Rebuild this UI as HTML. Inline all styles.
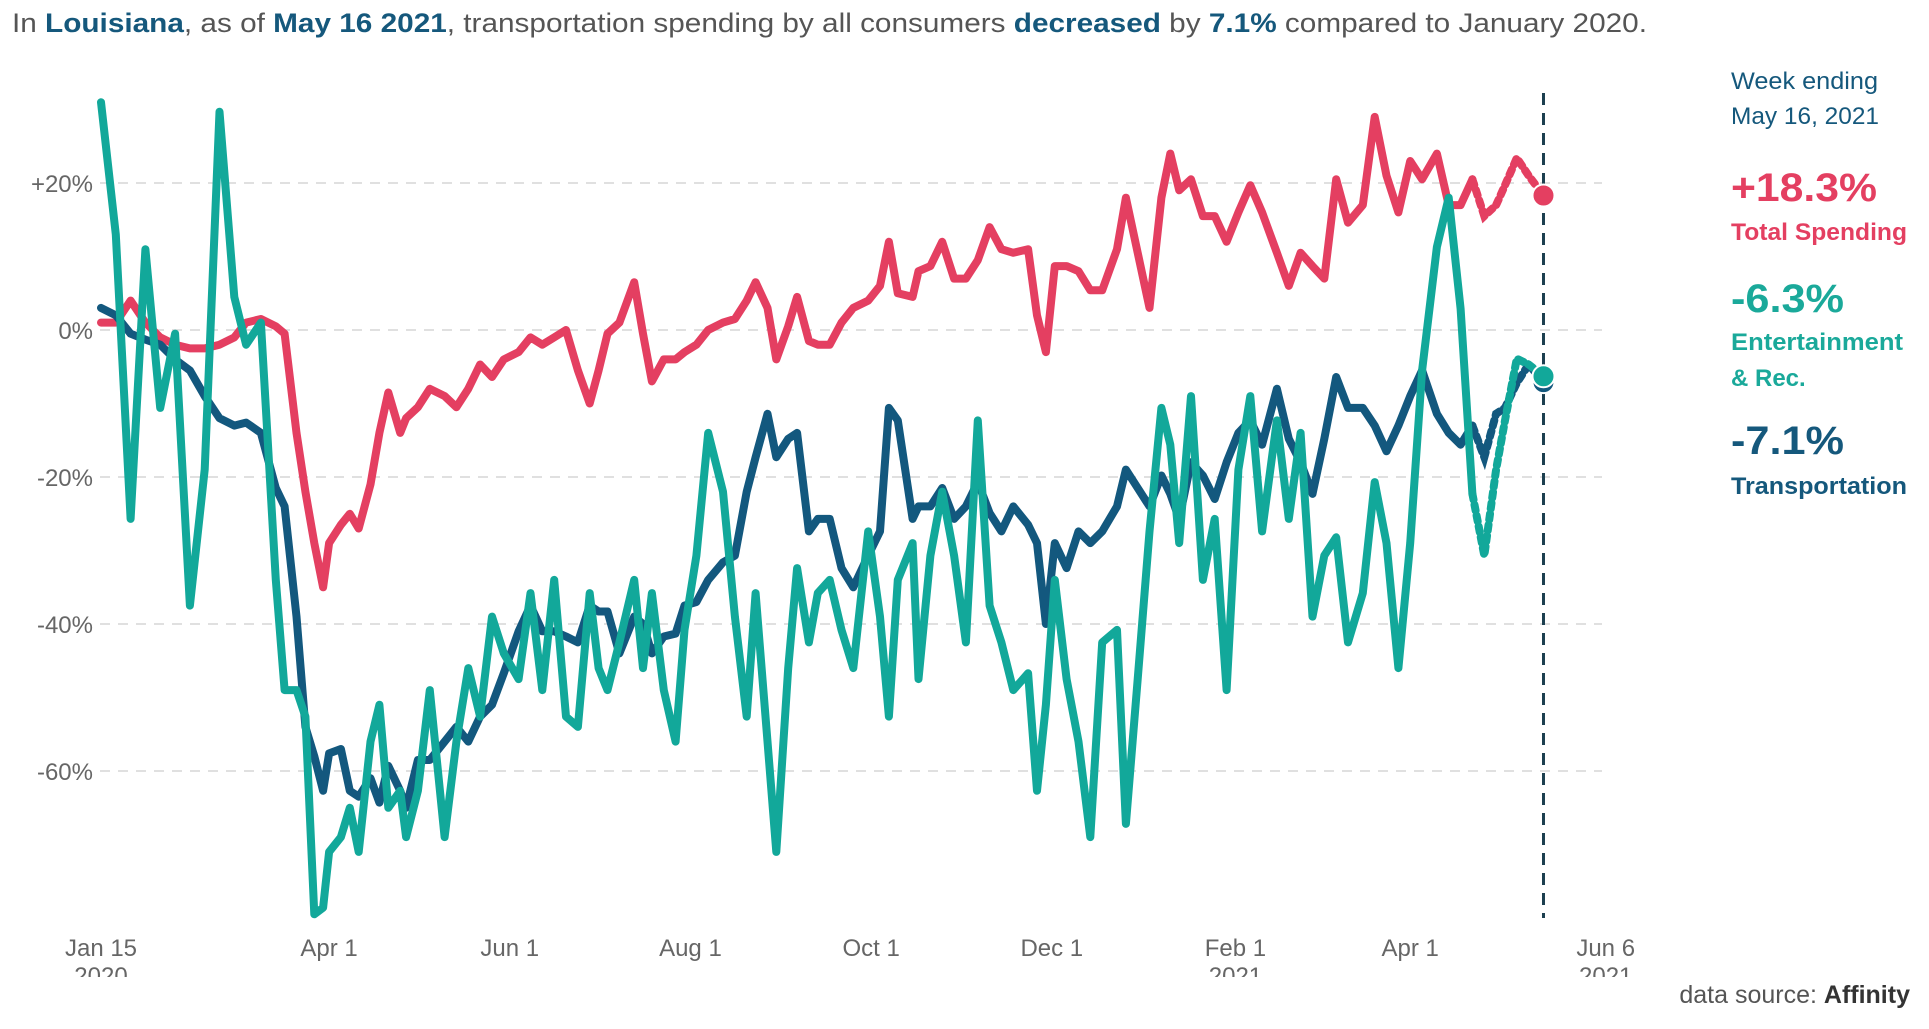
<!DOCTYPE html>
<html><head><meta charset="utf-8"><style>
html,body{margin:0;padding:0;background:#fff;width:1929px;height:1029px;overflow:hidden}
svg{display:block}
text{font-family:"Liberation Sans",sans-serif}
</style></head><body>
<svg id="chart" width="1929" height="1029" viewBox="0 0 1929 1029" xmlns="http://www.w3.org/2000/svg">
<defs><clipPath id="clipb"><rect x="0" y="0" width="1929" height="977"/></clipPath></defs>
<text x="12" y="32" font-size="27" fill="#555" textLength="1635" lengthAdjust="spacingAndGlyphs">In <tspan font-weight="bold" fill="#15587c">Louisiana</tspan>, as of <tspan font-weight="bold" fill="#15587c">May 16 2021</tspan>, transportation spending by all consumers <tspan font-weight="bold" fill="#15587c">decreased</tspan> by <tspan font-weight="bold" fill="#15587c">7.1%</tspan> compared to January 2020.</text>
<g id="grid"></g>
<g id="yaxis"></g>
<g id="xaxis" clip-path="url(#clipb)"></g>
<g id="series"></g>
<g font-weight="normal">
<text x="1731" y="89" font-size="24" fill="#15587c" textLength="147" lengthAdjust="spacingAndGlyphs">Week ending</text>
<text x="1731" y="124" font-size="24" fill="#15587c" textLength="148" lengthAdjust="spacingAndGlyphs">May 16, 2021</text>
<text x="1731" y="201" font-size="40" font-weight="bold" fill="#e43f61" textLength="146" lengthAdjust="spacingAndGlyphs">+18.3%</text>
<text x="1731" y="240" font-size="24" font-weight="bold" fill="#e43f61" textLength="176" lengthAdjust="spacingAndGlyphs">Total Spending</text>
<text x="1731" y="312" font-size="40" font-weight="bold" fill="#1aa99a" textLength="113" lengthAdjust="spacingAndGlyphs">-6.3%</text>
<text x="1731" y="350" font-size="24" font-weight="bold" fill="#1aa99a" textLength="172" lengthAdjust="spacingAndGlyphs">Entertainment</text>
<text x="1731" y="386" font-size="24" font-weight="bold" fill="#1aa99a">&amp; Rec.</text>
<text x="1731" y="454" font-size="40" font-weight="bold" fill="#15587c" textLength="113" lengthAdjust="spacingAndGlyphs">-7.1%</text>
<text x="1731" y="494" font-size="24" font-weight="bold" fill="#15587c" textLength="176" lengthAdjust="spacingAndGlyphs">Transportation</text>
</g>
<text x="1910" y="1003" font-size="25" fill="#555" text-anchor="end">data source: <tspan font-weight="bold" fill="#333">Affinity</tspan></text>
</svg>
<script>
const days=[0,5,10,15,20,25,30,35,40,45,49,54,59,62,66,69,72,75,77,81,84,87,91,94,97,101,103,107,111,116,120,124,128,132,136,141,145,149,153,157,161,165,168,171,175,180,183,186,190,194,197,201,205,210,214,218,221,225,228,232,235,239,242,246,250,254,259,263,266,269,274,276,280,284,288,292,296,300,304,308,313,316,319,322,326,330,334,338,343,346,350,354,358,361,364,368,372,376,380,384,388,392,397,401,405,409,413,417,421,426,430,434,438,442,446,451,455,459,463,467,471,474,478,482,487];
const totalSpending=[1,1,4,1,-1,-2,-2.5,-2.5,-2,-1,1,1.5,0.5,-0.5,-14,-22,-29,-35,-29,-26.5,-25,-27,-21,-14,-8.5,-14,-12,-10.5,-8,-9,-10.5,-8,-4.7,-6.4,-4,-3,-1,-2,-1,0,-5.5,-10,-5.5,-0.5,1,6.5,-0.5,-7,-4,-4,-3,-2,0,1,1.5,4,6.5,3,-4,0.5,4.5,-1.5,-2,-2,1,3,4,6,12,5,4.5,8,8.7,12,7,7,9.5,14,11,10.5,11,2,-3,8.7,8.7,8,5.4,5.4,11,18,10.5,3,18,24,19,20.5,15.5,15.5,12,16,19.7,16,10.5,6,10.5,8.7,7,20.5,14.6,17,29,21,16,23,20.5,24,17,17,20.5,15.5,17,19.7,23.4,21,18.3];
const transportation=[3,2,-0.5,-1.3,-2,-4,-5.5,-9,-12,-13,-12.6,-14,-21.5,-24,-39,-54,-58,-62.7,-57.6,-57,-62.7,-63.5,-61,-64.3,-59.3,-62.7,-65,-58.5,-58.5,-56,-54,-56,-52.6,-51,-46.7,-41,-37.5,-41,-41,-41.7,-42.5,-37.5,-38.3,-38.3,-44,-39,-40,-44,-41.7,-41.3,-37.5,-37,-34,-31.6,-30.7,-22,-17.3,-11.4,-17.3,-14.8,-14,-27.4,-25.7,-25.7,-32.4,-35,-30.7,-27.4,-10.6,-12.3,-25.7,-24,-24,-21.5,-25.7,-24,-20.7,-24.9,-27.4,-24,-26.5,-29,-40,-29,-32.4,-27.4,-29,-27.4,-24,-19,-21.5,-24,-19.8,-22.3,-25.7,-18,-19.8,-23,-18,-14,-12.3,-15.6,-8,-14.8,-18,-22.3,-14.8,-6.4,-10.6,-10.6,-13,-16.5,-13,-9,-5.5,-11.4,-14,-15.6,-13,-17.3,-11.4,-10.6,-7.2,-4.7,-7.1];
const entertainment=[31,13,-25.7,11,-10.6,-0.5,-37.5,-19,29.7,4.5,-2,1,-34,-49,-49,-52.6,-79.5,-78.6,-71,-69,-65,-71,-56,-51,-65,-62.7,-69,-62.7,-49,-69,-56,-46,-52.6,-39,-44,-47.5,-35.8,-49,-34,-52.6,-54,-35.8,-46,-49,-42.5,-34,-46,-35.8,-49,-56,-40.8,-30.7,-14,-22,-39,-52.6,-35.8,-56,-71,-46,-32.4,-42.5,-35.8,-34,-40.8,-46,-27.4,-39,-52.6,-34,-29,-47.5,-30.7,-22,-30.7,-42.5,-12.3,-37.5,-42.5,-49,-46.7,-62.7,-51,-34,-47.5,-56,-69,-42.5,-40.8,-67.2,-47.5,-27.4,-10.6,-15.6,-29,-9,-34,-25.7,-49,-19,-9,-27.4,-12.3,-25.7,-14,-39,-30.7,-28.2,-42.5,-35.8,-20.7,-29,-46,-29,-5.5,11.3,18,2.9,-22.3,-30.7,-19,-12.3,-3.9,-4.7,-6.3];
const yTicks=[20,0,-20,-40,-60];
const yTickLabels=["+20%","0%","-20%","-40%","-60%"];
const xTickDays=[0,77,138,199,260,321,383,442,508];
const xTickLabels=["Jan 15","Apr 1","Jun 1","Aug 1","Oct 1","Dec 1","Feb 1","Apr 1","Jun 6"];
const xTickYears=["2020","","","","","","2021","","2021"];
const weekDay=487, provisionalFrom=465;

const NS="http://www.w3.org/2000/svg";
const xS=d=>101+d*2.962;
const yS=v=>330-v*7.35;
function mk(tag,attrs,parent){const e=document.createElementNS(NS,tag);for(const k in attrs)e.setAttribute(k,attrs[k]);parent.appendChild(e);return e;}
const grid=document.getElementById('grid'),yax=document.getElementById('yaxis'),xax=document.getElementById('xaxis'),ser=document.getElementById('series');
yTicks.forEach((t,i)=>{
  const l=mk('line',{x1:100,x2:1602,y1:yS(t),y2:yS(t),stroke:'#d6d6d6','stroke-width':1.5,'stroke-dasharray':'10 8'},grid);
  
  
  const tx=mk('text',{x:93,y:yS(t)+9,'font-size':24,fill:'#666','text-anchor':'end'},yax);
  tx.textContent=yTickLabels[i];
  
  
});
xTickDays.forEach((d,i)=>{
  const tx=mk('text',{x:xS(d),y:956,'font-size':24,fill:'#666','text-anchor':'middle'},xax);
  tx.textContent=xTickLabels[i];
  
  
  if(xTickYears[i]){
    const ty=mk('text',{x:xS(d),y:984,'font-size':24,fill:'#666','text-anchor':'middle'},xax);
    ty.textContent=xTickYears[i];
    
    
  }
});
const vl=mk('line',{x1:xS(weekDay),x2:xS(weekDay),y1:93,y2:918,stroke:'#1c3f4f','stroke-width':3,'stroke-dasharray':'12 8'},ser);


function drawSeries(vals,color,name){
  let solid='',dash='';
  const startIdx=days.findIndex(x=>x>provisionalFrom)-1;
  days.forEach((d,i)=>{
    const p=xS(d).toFixed(1)+','+yS(vals[i]).toFixed(1);
    if(d<=provisionalFrom) solid+=(solid?' L':'M')+p;
    if(i>=startIdx) dash+=(dash?' L':'M')+p;
  });
  const a=mk('path',{d:solid,fill:'none',stroke:color,'stroke-width':8,'stroke-linejoin':'round','stroke-linecap':'round'},ser);
  
  
  const b=mk('path',{d:dash,fill:'none',stroke:color,'stroke-width':8,'stroke-dasharray':'6 5','stroke-linecap':'round'},ser);
  
  
}
drawSeries(totalSpending,'#e43f61','total-spending');
drawSeries(transportation,'#13587e','transportation');
drawSeries(entertainment,'#12a89a','entertainment');
[[transportation,'#13587e','transportation'],[entertainment,'#12a89a','entertainment'],[totalSpending,'#e43f61','total-spending']].forEach(s=>{
  const c=mk('circle',{cx:xS(weekDay),cy:yS(s[0][s[0].length-1]),r:11,fill:s[1],stroke:'#fff','stroke-width':2},ser);
  
  
});
</script>
</body></html>
